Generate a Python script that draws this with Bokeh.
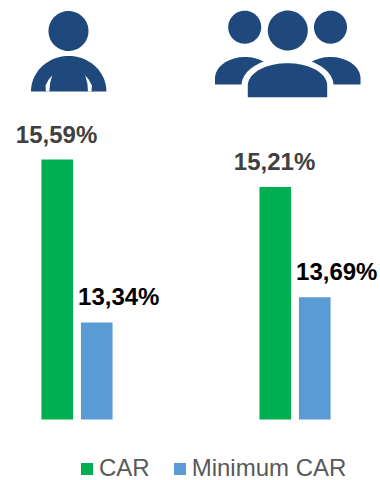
import numpy as np
from bokeh.plotting import figure
from bokeh.models import Range1d, Legend, LegendItem
from bokeh.core.properties import value
from bokeh.embed import file_html
from bokeh.resources import INLINE

groups = [0, 1]
car = [15.59, 15.21]
minimum_car = [13.34, 13.69]
car_labels = ["15,59%", "15,21%"]
minimum_labels = ["13,34%", "13,69%"]
series_names = ["CAR", "Minimum CAR"]
axis_floor = 12.0

GREEN = "#00B050"
BLUE = "#5B9BD5"
NAVY = "#1F497D"

p = figure(width=380, height=480, output_backend="svg", toolbar_location=None,
           x_range=Range1d(-76.5 / 218, (380 - 76.5) / 218),
           y_range=Range1d(axis_floor - 61 / 72.4, axis_floor + 419 / 72.4),
           min_border=0, outline_line_color=None, background_fill_color="white")
p.axis.visible = False
p.grid.visible = False

# Pixel-space ranges for the pictograms above the bars.
p.extra_x_ranges["px"] = Range1d(0, 380)
p.extra_y_ranges["px"] = Range1d(480, 0)

offset = 0.0906
bar_w = 0.145
x_car = [g - offset for g in groups]
x_min = [g + offset for g in groups]

r_car = p.vbar(x=x_car, top=car, bottom=axis_floor, width=bar_w, fill_color=GREEN, line_color=None)
r_min = p.vbar(x=x_min, top=minimum_car, bottom=axis_floor, width=bar_w, fill_color=BLUE, line_color=None)

font = value("Liberation Sans")
p.text(x=x_car, y=car, text=car_labels, text_font=font, text_font_size="24px", text_font_style="bold",
       text_color="#404040", text_align="center", text_baseline="alphabetic", x_offset=-0.7, y_offset=-25.5)
p.text(x=x_min, y=minimum_car, text=minimum_labels, text_font=font, text_font_size="24px", text_font_style="bold",
       text_color="#000000", text_align="center", text_baseline="alphabetic", x_offset=22, y_offset=-26)


def dome(cx, base, rx, ry, t0=np.pi, t1=0.0, n=60):
    t = np.linspace(t0, t1, n)
    return cx + rx * np.cos(t), base - ry * np.sin(t)


def draw(xs, ys, color=NAVY):
    p.patch(list(xs), list(ys), x_range_name="px", y_range_name="px", fill_color=color, line_color=None)


def disc(cx, cy, r):
    xs, ys = dome(cx, cy, r, r, 0, 2 * np.pi, 80)
    draw(xs, ys)


def walled_dome(cx, bottom, shoulder, rx, ry, color=NAVY):
    xs, ys = dome(cx, shoulder, rx, ry)
    draw(np.r_[cx - rx, xs, cx + rx], np.r_[bottom, ys, bottom], color)


# Single person: head, shoulders and the two arm creases
disc(68, 30.5, 20)
draw(*dome(68.2, 91, 37.7, 35.5))
for side in (-1, 1):
    draw([68.2 + side * 16.5, 68.2 + side * 20, 68.2 + side * 23.2, 68.2 + side * 22.8,
          68.2 + side * 19.3, 68.2 + side * 18.7],
         [75, 79, 85, 91, 91, 83], "white")

# Group of three: heads, side shoulders, white halo, front shoulders
disc(244.2, 26.7, 16.5)
disc(287.3, 30, 20)
disc(330, 26.7, 16.5)
walled_dome(244.5, 84, 78, 30, 21.5)
walled_dome(330, 84, 78, 30, 21.5)
walled_dome(287, 100, 85, 46, 28, "white")
walled_dome(287, 96.7, 85, 39.7, 22.3)

legend = Legend(items=[LegendItem(label=series_names[0], renderers=[r_car]),
                       LegendItem(label=series_names[1], renderers=[r_min])],
                orientation="horizontal", location=(79, -2), border_line_color=None,
                background_fill_alpha=0, padding=4, margin=0, spacing=22,
                glyph_width=15, glyph_height=15, label_standoff=5,
                label_text_font="Liberation Sans", label_text_font_size="24px",
                label_text_color="#595959")
p.add_layout(legend, "center")

open("out.html", "w").write(file_html(p, INLINE))
